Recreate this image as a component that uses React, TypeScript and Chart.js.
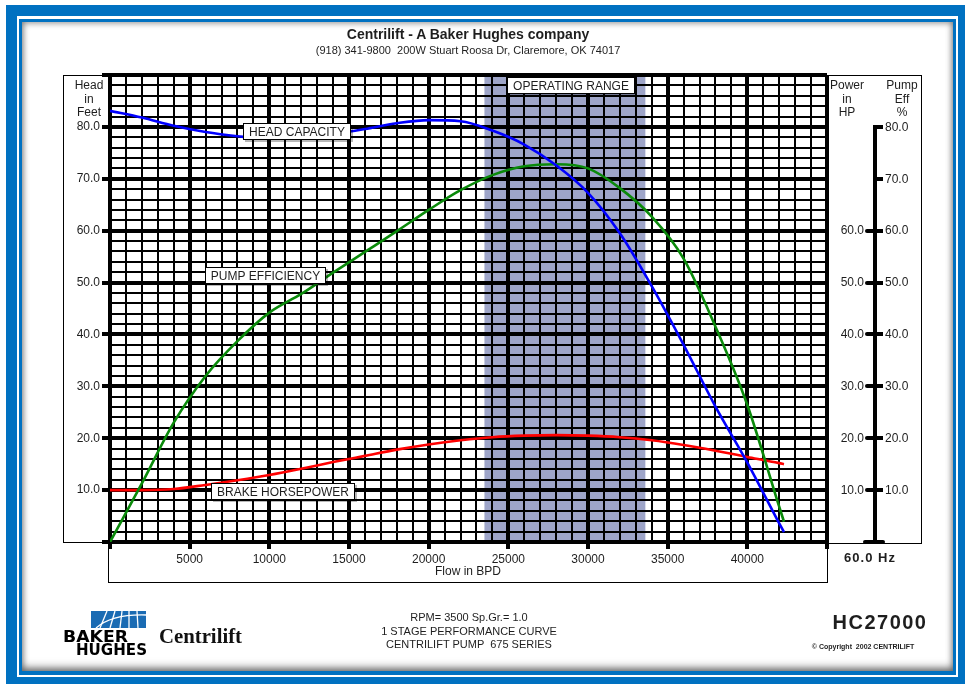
import React, { useEffect, useRef } from "react";
import { Chart, registerables } from "chart.js";

Chart.register(...registerables);

// Flow rates (BPD) at which the pump curves are sampled
const FLOW_BPD = [0, 2000, 4000, 6000, 8000, 10000, 12000, 14000, 16000, 18000, 20000, 22000, 24000, 26000, 28000, 30000, 32000, 34000, 36000, 38000, 40000, 42000, 42300];
// Head per stage, feet
const HEAD_FT = [83.1, 81.8, 80.2, 79.0, 78.2, 77.7, 77.8, 78.6, 79.6, 80.7, 81.3, 81.1, 79.3, 76.6, 72.6, 67.3, 59.5, 49.3, 38.0, 26.1, 15.3, 3.6, 1.9];
// Pump efficiency, %
const PUMP_EFF = [0, 11.3, 23.0, 32.0, 38.7, 44.2, 47.8, 51.9, 55.9, 59.9, 64.0, 67.8, 70.7, 72.4, 72.8, 72.0, 68.2, 62.7, 54.6, 41.5, 26.4, 6.8, 3.9];
// Brake horsepower, HP
const BRAKE_HP = [10.0, 10.0, 10.2, 11.0, 11.9, 12.9, 14.1, 15.4, 16.6, 17.8, 18.8, 19.6, 20.2, 20.5, 20.6, 20.5, 20.2, 19.6, 18.7, 17.6, 16.4, 15.2, 15.0];

// Axis ranges and grid spacing
const X_MAX = 45000;
const X_STEP = 1000;
const X_MAJOR = 5000;
const Y_MAX = 90;
const Y_STEP = 2;
const Y_MAJOR = 10;

// Recommended operating range (BPD)
const OPERATING_RANGE = [23500, 33600];

// Right-hand scales
const POWER_TICKS = [10, 20, 30, 40, 50, 60];
const EFF_TICKS = [10, 20, 30, 40, 50, 60, 70, 80];

// Boxed captions, anchored in data space (flow, value)
const CURVE_LABELS = [
  { text: "HEAD CAPACITY", flow: 11740, value: 79.1 },
  { text: "PUMP EFFICIENCY", flow: 9730, value: 51.4 },
  { text: "BRAKE HORSEPOWER", flow: 10830, value: 9.8 },
  { text: "OPERATING RANGE", flow: 28930, value: 87.9 },
];

const SANS = '"Liberation Sans", Arial, Helvetica, sans-serif';
const TEXT = "#1e1e1e";
const BLUE_FRAME = "#0071c1";

const RIGHT_AXIS_X = 875;

const gridValues = (max: number, step: number) => {
  const out: number[] = [];
  for (let v = 0; v <= max + 1e-9; v += step) out.push(v);
  return out;
};

const isMajor = (v: number, major: number, max: number) =>
  Math.abs(v % major) < 1e-6 || Math.abs(v - max) < 1e-6;

const toPoints = (vals: number[]) => FLOW_BPD.map((f, i) => ({ x: f, y: vals[i] }));

const rangeShade = {
  id: "rangeShade",
  beforeDraw(chart: any) {
    const { ctx, chartArea, scales } = chart;
    const x0 = scales.x.getPixelForValue(OPERATING_RANGE[0]);
    const x1 = scales.x.getPixelForValue(OPERATING_RANGE[1]);
    ctx.save();
    ctx.fillStyle = "#9ea5c9";
    ctx.fillRect(x0, chartArea.top, x1 - x0, chartArea.bottom - chartArea.top);
    ctx.restore();
  },
};

const rightAxis = {
  id: "rightAxis",
  afterDraw(chart: any) {
    const { ctx, scales } = chart;
    const y = scales.y;
    const ax = RIGHT_AXIS_X;
    const top = y.getPixelForValue(EFF_TICKS[EFF_TICKS.length - 1]);
    const bot = y.getPixelForValue(0);
    ctx.save();
    ctx.strokeStyle = "#000";
    ctx.lineWidth = 4;
    ctx.lineCap = "butt";
    ctx.beginPath();
    ctx.moveTo(ax, top - 2);
    ctx.lineTo(ax, bot);
    ctx.stroke();
    EFF_TICKS.forEach((v) => {
      const py = Math.round(y.getPixelForValue(v));
      ctx.beginPath();
      ctx.moveTo(ax - 2, py);
      ctx.lineTo(ax + 8, py);
      ctx.stroke();
    });
    ctx.lineCap = "round";
    POWER_TICKS.forEach((v) => {
      const py = Math.round(y.getPixelForValue(v));
      ctx.beginPath();
      ctx.moveTo(ax - 8, py);
      ctx.lineTo(ax, py);
      ctx.stroke();
    });
    ctx.beginPath();
    ctx.moveTo(ax - 10, bot);
    ctx.lineTo(ax + 8, bot);
    ctx.stroke();

    ctx.font = `12px ${SANS}`;
    ctx.fillStyle = TEXT;
    ctx.textBaseline = "middle";
    ctx.textAlign = "left";
    EFF_TICKS.forEach((v) => ctx.fillText(v.toFixed(1), ax + 10, y.getPixelForValue(v) + 0.5));
    ctx.textAlign = "right";
    POWER_TICKS.forEach((v) => ctx.fillText(v.toFixed(1), ax - 11, y.getPixelForValue(v) + 0.5));
    ctx.restore();
  },
};

const curveLabels = {
  id: "curveLabels",
  afterDatasetsDraw(chart: any) {
    const { ctx, scales } = chart;
    ctx.save();
    ctx.font = `12px ${SANS}`;
    CURVE_LABELS.forEach((l) => {
      const cx = scales.x.getPixelForValue(l.flow);
      const cy = scales.y.getPixelForValue(l.value);
      const w = Math.round(ctx.measureText(l.text).width + 12);
      const h = 17;
      const bx = Math.round(cx - w / 2);
      const by = Math.round(cy - h / 2);
      ctx.fillStyle = "rgba(0,0,0,0.28)";
      ctx.fillRect(bx + 2, by + 2, w, h);
      ctx.fillStyle = "#fff";
      ctx.fillRect(bx, by, w, h);
      ctx.strokeStyle = "#000";
      ctx.lineWidth = 1;
      ctx.strokeRect(bx + 0.5, by + 0.5, w - 1, h - 1);
      ctx.fillStyle = TEXT;
      ctx.textAlign = "center";
      ctx.textBaseline = "middle";
      ctx.fillText(l.text, bx + w / 2, by + h / 2 + 1);
    });
    ctx.restore();
  },
};

function PumpCurveChart() {
  const ref = useRef<HTMLCanvasElement | null>(null);

  useEffect(() => {
    if (!ref.current) return;
    const xGrid = gridValues(X_MAX, X_STEP);
    const yGrid = gridValues(Y_MAX, Y_STEP);
    const majorX = (c: any) => c.tick && isMajor(c.tick.value, X_MAJOR, X_MAX);
    const majorY = (c: any) => c.tick && isMajor(c.tick.value, Y_MAJOR, Y_MAX);

    const chart = new Chart(ref.current, {
      type: "line",
      data: {
        datasets: [
          { label: "Head Capacity", data: toPoints(HEAD_FT), borderColor: "#0000ff" },
          { label: "Pump Efficiency", data: toPoints(PUMP_EFF), borderColor: "#0a8a0a" },
          { label: "Brake Horsepower", data: toPoints(BRAKE_HP), borderColor: "#ff0000" },
        ] as any,
      },
      options: {
        animation: false,
        responsive: false,
        devicePixelRatio: 1,
        parsing: false,
        layout: { padding: { left: 64, right: 138, top: 75, bottom: 112 } },
        plugins: { legend: { display: false }, tooltip: { enabled: false } },
        elements: {
          point: { radius: 0 },
          line: { borderWidth: 2.6, cubicInterpolationMode: "monotone", fill: false },
        },
        scales: {
          x: {
            type: "linear",
            min: 0,
            max: X_MAX,
            afterBuildTicks: (s: any) => {
              s.ticks = xGrid.map((v) => ({ value: v }));
            },
            afterFit: (s: any) => {
              s.height = 30;
            },
            ticks: {
              autoSkip: false,
              maxRotation: 0,
              padding: 3,
              color: TEXT,
              font: { family: SANS, size: 12 },
              callback: (v: any) => {
                const n = Number(v);
                return n % X_MAJOR === 0 && n > 0 && n < X_MAX ? String(n) : "";
              },
            },
            grid: {
              color: "#000",
              lineWidth: (c: any) => (majorX(c) ? 4 : 2),
              tickLength: 7,
              tickWidth: 4,
              tickColor: (c: any) => (majorX(c) ? "#000" : "rgba(0,0,0,0)"),
            },
            border: { color: "#000", width: 4 },
          },
          y: {
            type: "linear",
            min: 0,
            max: Y_MAX,
            afterBuildTicks: (s: any) => {
              s.ticks = yGrid.map((v) => ({ value: v }));
            },
            afterFit: (s: any) => {
              s.width = 46;
            },
            ticks: {
              autoSkip: false,
              padding: 2,
              color: TEXT,
              font: { family: SANS, size: 12 },
              callback: (v: any) => {
                const n = Number(v);
                return n % Y_MAJOR === 0 && n > 0 && n < Y_MAX ? n.toFixed(1) : "";
              },
            },
            grid: {
              color: "#000",
              lineWidth: (c: any) => (majorY(c) ? 4 : 2),
              tickLength: 8,
              tickWidth: 4,
              tickColor: (c: any) => (majorY(c) ? "#000" : "rgba(0,0,0,0)"),
            },
            border: { color: "#000", width: 4 },
          },
        },
      } as any,
      plugins: [rangeShade, rightAxis, curveLabels],
    });
    return () => chart.destroy();
  }, []);

  return (
    <canvas
      ref={ref}
      width={965}
      height={684}
      style={{ position: "absolute", left: 0, top: 0, width: 965, height: 684, zIndex: 2 }}
    />
  );
}

type TxtProps = { x: number; y: number; children: React.ReactNode; style?: React.CSSProperties };
const Txt = ({ x, y, children, style }: TxtProps) => (
  <div
    style={{
      position: "absolute",
      left: x,
      top: y,
      transform: "translate(-50%, -50%)",
      whiteSpace: "pre",
      fontFamily: SANS,
      fontSize: 12,
      color: TEXT,
      lineHeight: 1,
      zIndex: 3,
      ...style,
    }}
  >
    {children}
  </div>
);

const Logo = () => (
  <svg
    width={200}
    height={56}
    style={{ position: "absolute", left: 60, top: 606, zIndex: 3 }}
  >
    <rect x={31} y={5} width={55} height={17} fill="#1a6bb3" />
    <g stroke="#fff" strokeWidth={1.3} fill="none">
      <path d="M40 22 L47 5" />
      <path d="M50 22 L55 5" />
      <path d="M60 22 L62 5" />
      <path d="M69 22 L69 5" />
      <path d="M78 22 L77 5" />
      <path d="M36 22 Q52 8 86 9" />
    </g>
    <text
      x={3}
      y={36}
      textLength={65}
      lengthAdjust="spacingAndGlyphs"
      style={{ font: 'bold 16px "DejaVu Sans", Arial, sans-serif' }}
      fill="#000"
    >
      BAKER
    </text>
    <text
      x={16}
      y={48.5}
      textLength={71}
      lengthAdjust="spacingAndGlyphs"
      style={{ font: 'bold 16px "DejaVu Sans", Arial, sans-serif' }}
      fill="#000"
    >
      HUGHES
    </text>
    <text
      x={99}
      y={37}
      textLength={83}
      lengthAdjust="spacingAndGlyphs"
      style={{ font: 'bold 20px "Liberation Serif", "Times New Roman", serif' }}
      fill="#111"
    >
      Centrilift
    </text>
  </svg>
);

export default function App() {
  return (
    <div
      style={{
        position: "fixed",
        left: 0,
        top: 0,
        width: 965,
        height: 684,
        background: "#fff",
        overflow: "hidden",
      }}
    >
      {/* window frame: thick blue band, white gap, thin blue line, page */}
      <div style={{ position: "absolute", left: 6, top: 5, right: 0, bottom: 0, background: BLUE_FRAME }} />
      <div style={{ position: "absolute", left: 17, top: 16, right: 7, bottom: 7, background: "#fff" }} />
      <div style={{ position: "absolute", left: 19, top: 19, right: 9, bottom: 9, background: BLUE_FRAME }} />
      <div
        style={{
          position: "absolute",
          left: 22,
          top: 22,
          right: 12,
          bottom: 13,
          background: "#fff",
          boxShadow: "inset 0 0 6px 1px rgba(0,0,0,0.45), inset 0 -6px 8px -2px rgba(0,0,0,0.35)",
        }}
      />

      {/* thin boxes around the side panels and the flow axis */}
      <div style={{ position: "absolute", left: 63, top: 75, width: 45, height: 466, borderLeft: "1px solid #000", borderTop: "1px solid #000", borderBottom: "1px solid #000", zIndex: 1 }} />
      <div style={{ position: "absolute", left: 827, top: 75, width: 94, height: 467, borderRight: "1px solid #000", borderTop: "1px solid #000", borderBottom: "1px solid #000", zIndex: 1 }} />
      <div style={{ position: "absolute", left: 108, top: 542, width: 718, height: 40, borderLeft: "1px solid #000", borderRight: "1px solid #000", borderBottom: "1px solid #000", zIndex: 1 }} />

      <PumpCurveChart />

      <Txt x={468} y={34} style={{ fontSize: 14, fontWeight: "bold" }}>Centrilift - A Baker Hughes company</Txt>
      <Txt x={468} y={50} style={{ fontSize: 11 }}>{"(918) 341-9800  200W Stuart Roosa Dr, Claremore, OK 74017"}</Txt>

      <Txt x={89} y={85}>Head</Txt>
      <Txt x={89} y={98.5}>in</Txt>
      <Txt x={89} y={112}>Feet</Txt>

      <Txt x={847} y={85}>Power</Txt>
      <Txt x={847} y={98.5}>in</Txt>
      <Txt x={847} y={112}>HP</Txt>

      <Txt x={902} y={85}>Pump</Txt>
      <Txt x={902} y={98.5}>Eff</Txt>
      <Txt x={902} y={112}>%</Txt>

      <Txt x={468} y={571}>Flow in BPD</Txt>
      <Txt x={870} y={557} style={{ fontSize: 13, fontWeight: "bold", letterSpacing: 1 }}>60.0 Hz</Txt>

      <Txt x={469} y={617} style={{ fontSize: 11 }}>RPM= 3500 Sp.Gr.= 1.0</Txt>
      <Txt x={469} y={631} style={{ fontSize: 11 }}>1 STAGE PERFORMANCE CURVE</Txt>
      <Txt x={469} y={644} style={{ fontSize: 11 }}>{"CENTRILIFT PUMP  675 SERIES"}</Txt>

      <Txt x={880} y={622} style={{ fontSize: 20, fontWeight: "bold", letterSpacing: 1.5 }}>HC27000</Txt>
      <Txt x={863} y={646} style={{ fontSize: 7, fontWeight: "bold" }}>{"© Copyright  2002 CENTRILIFT"}</Txt>

      <Logo />
    </div>
  );
}
